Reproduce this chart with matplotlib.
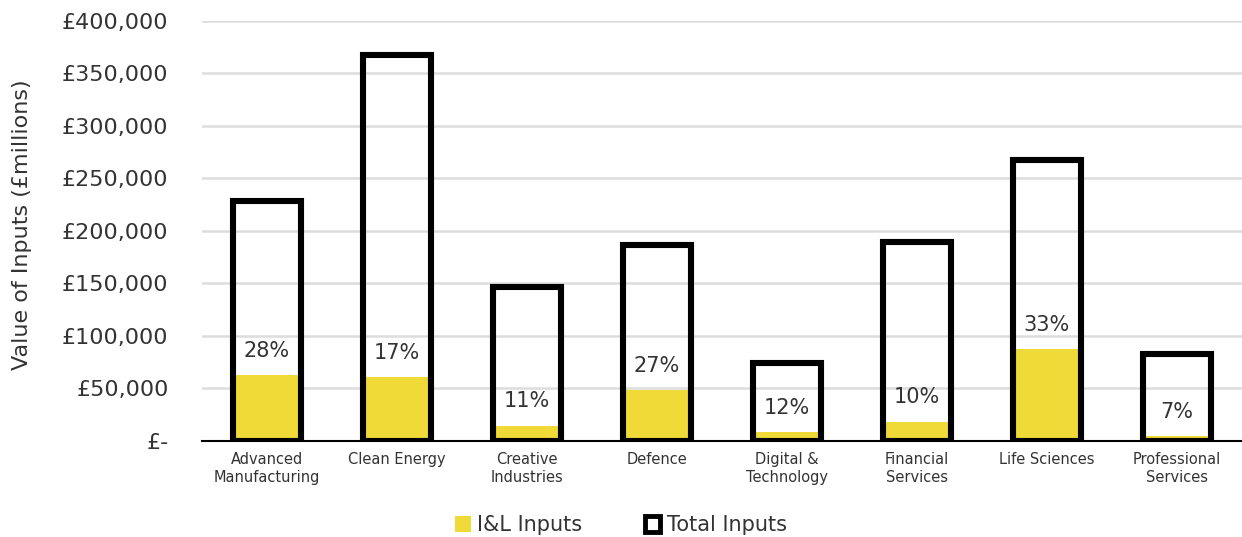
import matplotlib.pyplot as plt
from matplotlib.patches import Patch

categories = ["Advanced\nManufacturing", "Clean Energy", "Creative\nIndustries", "Defence",
              "Digital &\nTechnology", "Financial\nServices", "Life Sciences", "Professional\nServices"]
total_inputs = [229000, 368000, 147000, 187000, 74000, 189500, 268000, 82500]
il_inputs = [63000, 60500, 14600, 48600, 8300, 18400, 87300, 4800]
pct_labels = ["28%", "17%", "11%", "27%", "12%", "10%", "33%", "7%"]

yellow = "#F0DA38"
text_col = "#333333"
plt.rcParams['font.family'] = ['DejaVu Sans']

fig = plt.figure(figsize=(12.42, 5.37), dpi=100)
ax = fig.add_axes([0.1626, 0.1788, 0.8374, 0.7822])

x = list(range(len(categories)))
w = 0.53
ax.bar(x, il_inputs, width=w, color=yellow, zorder=2)
ax.bar(x, total_inputs, width=w, facecolor="none", edgecolor="black", linewidth=4.4, zorder=3)

for xi, v, lab in zip(x, il_inputs, pct_labels):
    ax.annotate(lab, (xi, v), xytext=(0, 17.5), textcoords="offset points",
                ha="center", va="center", fontsize=15, color=text_col, zorder=4)

ax.set_xlim(-0.5, 7.5)
ax.set_ylim(0, 400000)
ax.set_yticks(range(0, 400001, 50000))
ax.set_yticklabels(["£-"] + [f"£{v:,}" for v in range(50000, 400001, 50000)])
ax.set_xticks(x)
ax.set_xticklabels(categories, fontsize=10.5, color=text_col, linespacing=1.25)
ax.tick_params(axis="y", length=0, pad=24, labelsize=16, labelcolor=text_col)
ax.tick_params(axis="x", length=0, pad=8)
ax.grid(axis="y", color="#DDDDDD", linewidth=1.8, zorder=0)
ax.set_axisbelow(True)
for s in ["top", "right", "left"]:
    ax.spines[s].set_visible(False)
ax.spines["bottom"].set_linewidth(1.5)
ax.spines["bottom"].set_zorder(5)

ax.set_ylabel("Value of Inputs (£millions)", fontsize=16, color=text_col)
ax.yaxis.set_label_coords(-0.1635, 0.514)

handles = [Patch(facecolor=yellow, edgecolor="none", label="I&L Inputs"),
           Patch(facecolor="white", edgecolor="black", linewidth=3.5, label="Total Inputs")]
fig.legend(handles=handles, loc="center", bbox_to_anchor=(0.5, 0.022), ncol=2, frameon=False,
           fontsize=15, handlelength=0.75, handleheight=0.75, handletextpad=0.3,
           columnspacing=3.0, labelcolor=text_col)

fig.savefig("out.png", dpi=100)
